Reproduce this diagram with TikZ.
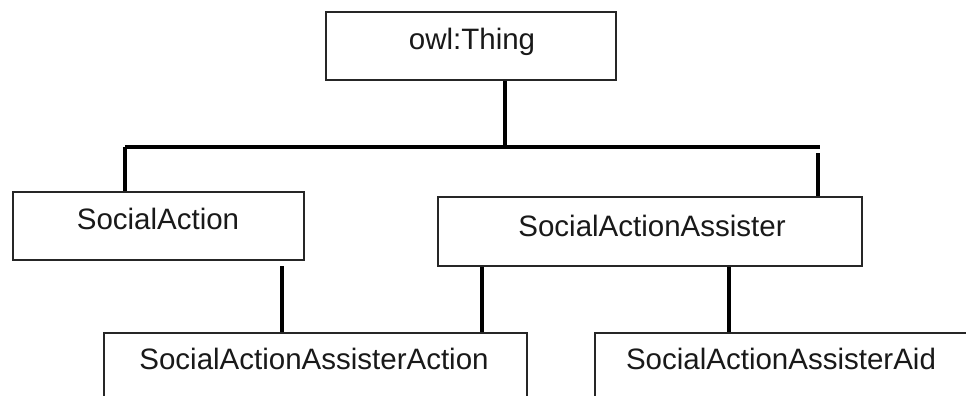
\documentclass[tikz,border=0pt]{standalone}
\usepackage{fontspec}
\setmainfont{Liberation Sans}
\begin{document}
\begin{tikzpicture}[x=1pt,y=-1pt,
  box/.style={draw=black!85, line width=2pt, rectangle, inner sep=0pt},
  lbl/.style={inner sep=0pt, anchor=base, font=\fontsize{29.5}{32}\selectfont, text=black!90},
  conn/.style={line width=3.2pt, black},
  bar/.style={line width=4.5pt, black}]
\useasboundingbox (0,0) rectangle (966,396);
\clip (0,0) rectangle (966,396);
% boxes
\node[box, minimum width=290pt, minimum height=68pt] (thing) at (471,46) {};
\node[box, minimum width=291pt, minimum height=68pt] (sa) at (158.5,226) {};
\node[box, minimum width=424pt, minimum height=69pt] (sas) at (650,231.5) {};
\node[box, minimum width=423pt, minimum height=100pt] (saaa) at (315.5,383) {};
\node[box, minimum width=420pt, minimum height=100pt] (saaid) at (805,383) {};
% labels
\node[lbl] (tthing) at (472,49.5) {owl:Thing};
\node[lbl] (tsa) at (158,229.5) {SocialAction};
\node[lbl] (tsas) at (652,236) {SocialActionAssister};
\node[lbl] (tsaaa) at (314,369.3) {SocialActionAssisterAction};
\node[lbl] (tsaid) at (781,369.3) {SocialActionAssisterAid};
% coordinates
\coordinate (bus) at (505,147);
\coordinate (busL) at (125,147);
\coordinate (busR) at (820,147);
\coordinate (rtop) at (818,153);
\coordinate (lfree) at (282,266);
% connectors
\draw[conn] (thing.south -| bus) -- (bus);
\draw[bar] (busL) -- (busR);
\draw[conn] (busL) -- (sa.north -| busL);
\draw[conn] (rtop) -- (sas.north -| rtop);
\draw[conn] (lfree) -- (saaa.north -| lfree);
\draw[conn] (sas.south -| 482,0) -- (saaa.north -| 482,0);
\draw[conn] (sas.south -| 729,0) -- (saaid.north -| 729,0);
\end{tikzpicture}
\end{document}
